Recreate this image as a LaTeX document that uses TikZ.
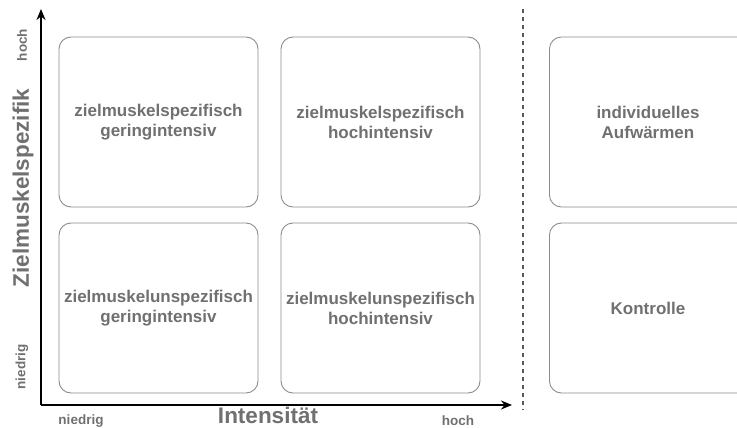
\documentclass[tikz,border=0pt]{standalone}
\usepackage{fontspec}
\setmainfont{Liberation Sans}
\usetikzlibrary{arrows.meta}
\definecolor{txt}{HTML}{707070}
\definecolor{boxline}{HTML}{8C8C8C}
\tikzset{
  cell/.style={draw=boxline, line width=0.9pt, rounded corners=12pt, minimum width=199pt, minimum height=170pt, inner sep=0pt, align=center, text=txt, font=\bfseries\fontsize{17}{20}\selectfont},
  celltext/.style={text=txt, font=\bfseries\fontsize{17}{20}\selectfont, align=center},
  axis/.style={line width=2pt, -{Stealth[length=11pt,width=9pt]}},
  small/.style={text=txt, font=\bfseries\fontsize{13.5}{15}\selectfont, inner sep=0pt},
  big/.style={text=txt, font=\bfseries\fontsize{22.5}{25}\selectfont, inner sep=0pt}
}
\begin{document}
\begin{tikzpicture}[x=1pt,y=-1pt]
\useasboundingbox (0,0) rectangle (737,428);
\clip (0,0) rectangle (737,428);
\node[cell] (a) at (158.5,122) {zielmuskelspezifisch\\geringintensiv};
\node[cell] (b) at (380.5,122) {zielmuskelspezifisch\\hochintensiv};
\node[cell] (c) at (158.5,308) {zielmuskelunspezifisch\\geringintensiv};
\node[cell] (d) at (380.5,308) {zielmuskelunspezifisch\\hochintensiv};
\node[cell, minimum width=240pt, anchor=west] (e) at (549,122) {};
\node[celltext] (et) at (648,122) {individuelles\\Aufwärmen};
\node[cell, minimum width=240pt, anchor=west] (f) at (549,308) {};
\node[celltext] (ft) at (648,308) {Kontrolle};
\coordinate (o) at (41,405);
\coordinate (ytip) at (41,9);
\coordinate (xtip) at (512,405);
\draw[axis] (o) -- (ytip);
\draw[axis] (o) -- (xtip);
\coordinate (d1) at (523,9);
\coordinate (d2) at (523,410);
\draw[draw=black!65, line width=1.4pt, dash pattern=on 4pt off 4pt] (d1) -- (d2);
\node[big, rotate=90] (yl) at (23,188) {Zielmuskelspezifik};
\node[big] (xl) at (268,415) {Intensität};
\node[small, rotate=90] (yh) at (22,45) {hoch};
\node[small, rotate=90] (yn) at (22,367) {niedrig};
\node[small] (xn) at (81,421) {niedrig};
\node[small] (xh) at (458,421) {hoch};
\end{tikzpicture}
\end{document}
